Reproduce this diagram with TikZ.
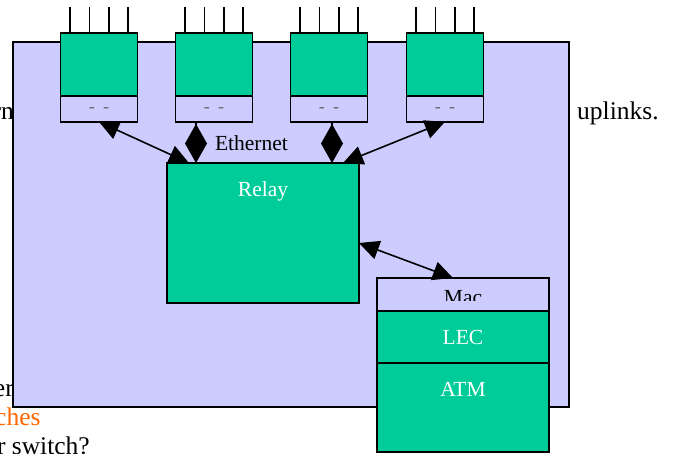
\documentclass[tikz,border=0pt]{standalone}
\usepackage{fontspec}
\setmainfont{Liberation Serif}
\usetikzlibrary{arrows.meta,calc,positioning}
\definecolor{lavender}{HTML}{CCCCFF}
\definecolor{jade}{HTML}{00CC99}
\definecolor{slideorange}{HTML}{FF6600}
\newcommand{\widegap}{\spaceskip=8.5pt\relax}
\tikzset{
  greenbox/.style={draw, fill=jade, line width=1.6pt, inner sep=0pt, outer sep=0pt},
  lavbox/.style={draw, fill=lavender, line width=1.6pt, inner sep=0pt, outer sep=0pt},
  boxtext/.style={font=\fontsize{21.5}{25}\selectfont, inner sep=0pt, anchor=base},
  dashtext/.style={font=\fontsize{18}{20}\selectfont\widegap, text=black!60, inner sep=0pt, anchor=base},
  slidetext/.style={font=\fontsize{25.5}{30}\selectfont, inner sep=0pt},
  pin/.style={line width=1.6pt},
  link/.style={line width=1.6pt, {Triangle[length=20pt,width=19pt]}-{Triangle[length=20pt,width=19pt]}},
  ethlink/.style={line width=1.6pt, -{Diamond[length=39pt,width=22pt]}},
}
\begin{document}
\begin{tikzpicture}[x=1pt, y=-1pt]
    \useasboundingbox (0,0) rectangle (673,454);

    % Slide text behind the diagram
    \node[slidetext, anchor=base east] (frag1) at (14,120) {rn};
    \node[slidetext, anchor=base west] (frag2) at (577,120) {uplinks.};
    \node[slidetext, anchor=base east] (frag3) at (14,397) {er};
    \node[slidetext, anchor=base east, text=slideorange] (frag4) at (40.7,426) {ches};
    \node[slidetext, anchor=base east] (frag5) at (90,455) {r switch?};

    % Switch frame
    \node[lavbox, minimum width=556, minimum height=365, anchor=north west] (switchbox) at (13,42) {};

    % Ports with their pins
    \foreach \n/\cx in {1/99, 2/214, 3/329, 4/445} {
        \node[greenbox, minimum width=77, minimum height=62.5, anchor=north] (port\n) at (\cx,33.3) {};
        \node[lavbox, minimum width=77, minimum height=26, anchor=north] (lbl\n) at (port\n.south) {};
        \node[dashtext] (dash\n) at ($(lbl\n.south)+(0,-9)$) {- -};
        \foreach \dx in {-29,-9.7,9.7,29}
            \draw[pin] ($(port\n.north)+(\dx,0)$) -- ++(0,-26.3);
    }

    % Relay
    \node[greenbox, minimum width=192, minimum height=140, anchor=north west] (relay) at (167,163) {};
    \node[boxtext, text=white] (relaylbl) at ($(relay.north)+(0,34)$) {Relay};
    \node[boxtext] (ethlbl) at (251.5,151) {Ethernet};

    % Mac / LEC / ATM stack
    \node[lavbox, minimum width=172, minimum height=33, anchor=north west] (mac) at (377,278) {};
    \begin{scope}
        \clip (mac.north west) rectangle ($(mac.south east)+(0,-10)$);
        \node[boxtext] (maclbl) at ($(mac.north)+(0,26.5)$) {Mac};
    \end{scope}
    \node[greenbox, minimum width=172, minimum height=52, anchor=north] (lec) at (mac.south) {};
    \node[boxtext, text=white] (leclbl) at ($(lec.north)+(0,34)$) {LEC};
    \node[greenbox, minimum width=172, minimum height=89, anchor=north] (atm) at (lec.south) {};
    \node[boxtext, text=white] (atmlbl) at ($(atm.north)+(0,33.7)$) {ATM};

    % Connectors
    \coordinate (relayA) at ($(relay.north west)+(22,0)$);
    \coordinate (relayB) at ($(relay.north east)+(-16,0)$);
    \coordinate (relayC) at ($(relay.north east)+(0,80)$);
    \coordinate (eth2) at ($(relay.north west)+(29,0)$);
    \coordinate (eth3) at ($(relay.north west)+(165,0)$);
    \coordinate (macA) at ($(mac.north west)+(76,0)$);
    \draw[link] (lbl1.south) -- (relayA);
    \draw[link] (lbl4.south) -- (relayB);
    \draw[ethlink] (eth2 |- lbl2.south) -- (eth2);
    \draw[ethlink] (eth3 |- lbl3.south) -- (eth3);
    \draw[link] (relayC) -- (macA);
\end{tikzpicture}
\end{document}
